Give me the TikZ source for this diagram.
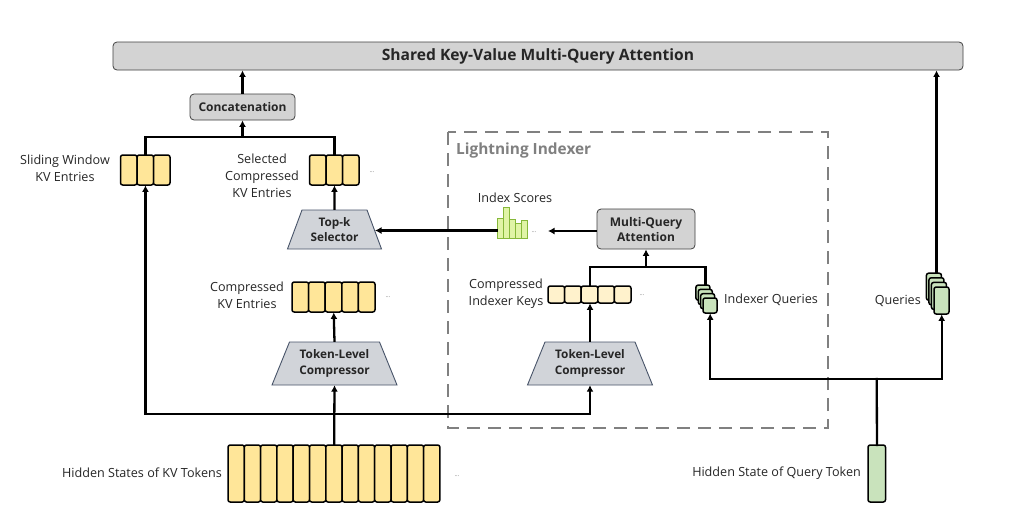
\documentclass[tikz,border=0pt]{standalone}
\usepackage{fontspec}
\setmainfont{Open Sans}
\usetikzlibrary{arrows.meta,calc}
\definecolor{cellY}{HTML}{FFE699}
\definecolor{cellLY}{HTML}{FFF2CC}
\definecolor{cellG}{HTML}{C9E3BC}
\definecolor{barF}{HTML}{E0F4A6}
\definecolor{barD}{HTML}{86B83A}
\definecolor{boxF}{HTML}{D3D3D3}
\definecolor{trapF}{HTML}{D1D4D9}
\definecolor{trapD}{HTML}{485469}
\definecolor{dashG}{HTML}{808080}
\definecolor{txt}{HTML}{262626}
\newcommand\cellrow[8]{%
  \foreach \ci in {1,...,#4}{\draw[cellst,fill=#7] ({#2+(\ci-1)*#5},#3) rectangle ++(#5,#6);}
  \node[inner sep=0,minimum width={#4*#5},minimum height={#6},anchor=north west] (#1) at (#2,#3) {};}
\newcommand\stackq[6]{% name, x, y (front top-left), w, h, dx/dy step
  \foreach \k in {3,2,1}{\draw[cellst,fill=cellG] ({#2-#6*\k*0.55},{#3-#6*\k}) rectangle ++(#4,#5);}
  \draw[cellst,fill=cellG] (#2,#3) rectangle ++(#4,#5);
  \node[inner sep=0,minimum width={#4},minimum height={#5},anchor=north west] (#1) at (#2,#3) {};}
\newcommand\trap[6]{% name, cx, ytop, topw, botw, h
  \draw[trapD,fill=trapF,line width=0.9pt] ({#2-#4/2},#3) -- ({#2+#4/2},#3) -- ({#2+#5/2},{#3+#6}) -- ({#2-#5/2},{#3+#6}) -- cycle;}
\begin{document}
\begin{tikzpicture}[x=1pt,y=-1pt,
  cellst/.style={draw=black,line width=1.5pt,rounded corners=2.2pt},
  graybox/.style={draw=black!75,fill=boxF,rounded corners=4pt,line width=0.8pt,inner sep=0,align=center,text=txt,font=\bfseries\fontsize{12}{15}\selectfont},
  traptext/.style={inner sep=0,align=center,text=txt,font=\bfseries\fontsize{11.8}{15.5}\selectfont},
  lbl/.style={inner sep=0,align=center,text=txt,font=\fontsize{12.6}{17}\selectfont},
  dotsst/.style={inner sep=0,text=black!55,font=\fontsize{6}{6}\selectfont},
  ln/.style={line width=2.3pt,line cap=rect},
  arr/.style={line width=2.3pt,-{Latex[length=6.5pt,width=7pt]}},
  barst/.style={draw=barD,fill=barF,line width=0.8pt}]
\useasboundingbox (0,0) rectangle (1024,528);
\fill[white] (0,0) rectangle (1024,528);

% top box
\node[graybox,minimum width=850,minimum height=28,font=\bfseries\fontsize{15.6}{18}\selectfont] (shared) at (538,56) {Shared Key-Value Multi-Query Attention};
\node[graybox,minimum width=105,minimum height=26] (concat) at (242.5,107) {Concatenation};

% lightning indexer frame
\draw[dashG,line width=2.7pt,dash pattern=on 13pt off 8pt] (448,132) rectangle (828,428);
\node[anchor=west,inner sep=0,text=dashG,font=\bfseries\fontsize{15.4}{18}\selectfont] (lilabel) at (456,150) {Lightning Indexer};

% cell rows
\cellrow{sw}{120.5}{155}{3}{16.5}{30}{cellY}{}
\cellrow{sel}{309.5}{155}{3}{16.5}{30}{cellY}{}
\cellrow{ckv}{292}{282}{5}{16.6}{30}{cellY}{}
\cellrow{hid}{228}{445}{13}{16.3}{57}{cellY}{}
\cellrow{keys}{548}{286}{5}{16.6}{17}{cellLY}{}
\cellrow{qh}{868}{445}{1}{17.5}{57}{cellG}{}

% stacks
\stackq{iq}{703}{298}{14}{15}{4.3}
\stackq{q}{934}{287}{15}{27}{4.6}
\coordinate (iqtop) at (705.5,285);
\coordinate (qtop) at (936.5,273);

% index scores bars
\draw[barst] (497,218) rectangle (503,238);
\draw[barst] (503,207) rectangle (509,238);
\draw[barst] (509,219) rectangle (515,238);
\draw[barst] (515,223) rectangle (521,238);
\draw[barst] (521,220) rectangle (527,238);
\node[inner sep=0,minimum width=30,minimum height=31,anchor=south west] (bars) at (497,238) {};
\coordinate (barsW) at (497,230.5);

% trapezoids
\trap{topk}{334.5}{210}{65}{94}{39}
\node[traptext,minimum width=65,minimum height=39] (topk) at (334.5,229.5) {Top-k\\Selector};
\trap{tlc1}{334.5}{342}{90}{125}{43}
\node[traptext,minimum width=90,minimum height=43] (tlc1) at (334.5,363.5) {Token-Level\\Compressor};
\trap{tlc2}{590}{342}{90}{125}{43}
\node[traptext,minimum width=90,minimum height=43] (tlc2) at (590,363.5) {Token-Level\\Compressor};
\coordinate (topkE) at (375,230.5);

% MQA
\node[graybox,minimum width=98,minimum height=40] (mqa) at (646,229) {Multi-Query\\Attention};

% labels
\node[lbl] (lsw) at (65,168) {Sliding Window\\KV Entries};
\node[lbl] (lsel) at (262,176) {Selected\\Compressed\\KV Entries};
\node[lbl] (lckv) at (247,295) {Compressed\\KV Entries};
\node[lbl,anchor=east] (lhid) at (222,473) {Hidden States of KV Tokens};
\node[lbl] (lis) at (515,198) {Index Scores};
\node[lbl] (lkeys) at (506,294) {Compressed\\Indexer Keys};
\node[lbl,anchor=west] (liq) at (724,300) {Indexer Queries};
\node[lbl,anchor=east] (lq) at (921,301) {Queries};
\node[lbl,anchor=east] (lqh) at (861,473) {Hidden State of Query Token};

% dots
\node[dotsst] (d1) at (372,172) {...};
\node[dotsst] (d2) at (388,297) {...};
\node[dotsst] (d3) at (457,476) {...};
\node[dotsst] (d4) at (534,232) {...};
\node[dotsst] (d5) at (642,295) {...};
\coordinate (isArr) at (548,231);

% connectors
\draw[arr] (concat.north) -- (concat.north |- shared.south);
\coordinate (j1) at (242.5,137);
\draw[ln] (sw.north) |- (j1) -| (sel.north);
\draw[arr] (j1) -- (concat.south);
\draw[arr] (topk.north) -- (sel.south);
\draw[ln] (barsW) -- ($(topkE)+(6,0)$);
\draw[arr] (barsW) -- (topkE);
\draw[arr] (mqa.west |- isArr) -- (isArr);
\draw[arr] (tlc1.north) -- (ckv.south);
\coordinate (j2) at (334.5,414);
\draw[arr] (hid.north) -- (tlc1.south);
\draw[arr] (j2) -| (sw.south);
\draw[arr] (j2) -| (tlc2.south);
\draw[arr] (tlc2.north) -- (tlc2.north |- keys.south);
\coordinate (j3) at (646,267);
\draw[ln] (keys.north -| tlc2.north) |- (j3) -| (iqtop);
\draw[arr] (j3) -- (mqa.south);
\coordinate (j4) at (876.75,379);
\draw[ln] (qh.north) -- (j4);
\draw[arr] (j4) -| (iq.south);
\draw[arr] (j4) -| (q.south);
\draw[arr] (qtop) -- (qtop |- shared.south);
\end{tikzpicture}
\end{document}
